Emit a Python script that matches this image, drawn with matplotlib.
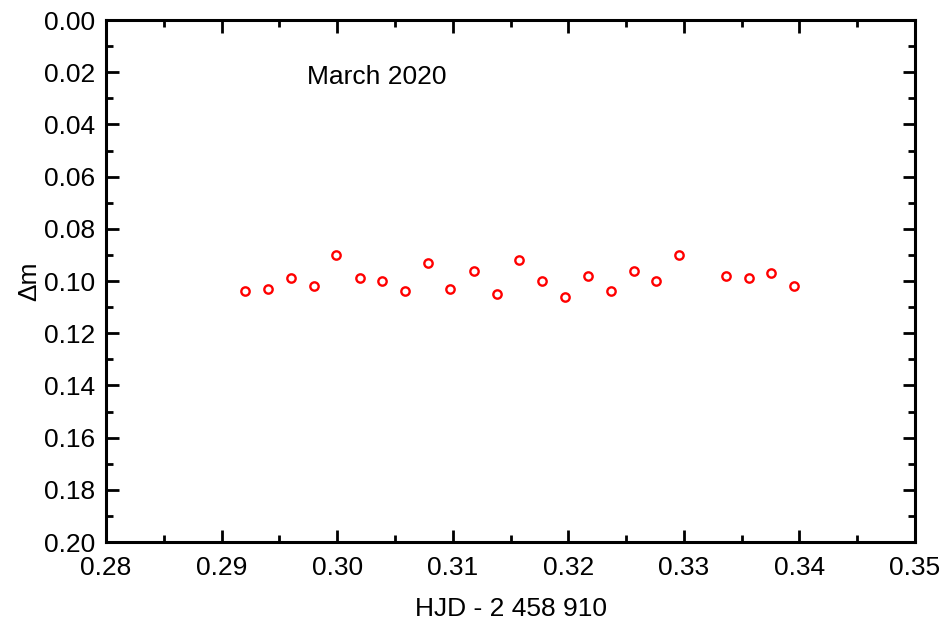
import matplotlib.pyplot as plt
from matplotlib.ticker import MultipleLocator

plt.rcParams['font.family'] = ['Liberation Sans', 'DejaVu Sans']

# HJD - 2458910 and differential magnitude
hjd = [0.2920, 0.2940, 0.2960, 0.2980, 0.2999, 0.3020, 0.3039, 0.3059,
       0.3079, 0.3098, 0.3118, 0.3138, 0.3157, 0.3177, 0.3197, 0.3217,
       0.3237, 0.3257, 0.3276, 0.3296, 0.3336, 0.3356, 0.3375, 0.3395]
dmag = [0.104, 0.103, 0.099, 0.102, 0.090, 0.099, 0.100, 0.104,
        0.093, 0.103, 0.096, 0.105, 0.092, 0.100, 0.106, 0.098,
        0.104, 0.096, 0.100, 0.090, 0.098, 0.099, 0.097, 0.102]

fig = plt.figure(figsize=(9.45, 6.22), dpi=100)
ax = fig.add_axes([0.1122, 0.1286, 0.8561, 0.8392])

ax.plot(hjd, dmag, 'o', markersize=6, markerfacecolor='none',
        markeredgecolor='red', markeredgewidth=1.7)

ax.set_xlim(0.28, 0.35)
ax.set_ylim(0.20, 0.00)
ax.xaxis.set_major_locator(MultipleLocator(0.01))
ax.xaxis.set_minor_locator(MultipleLocator(0.005))
ax.yaxis.set_major_locator(MultipleLocator(0.02))
ax.yaxis.set_minor_locator(MultipleLocator(0.01))
ax.xaxis.set_major_formatter(plt.FormatStrFormatter('%.2f'))
ax.yaxis.set_major_formatter(plt.FormatStrFormatter('%.2f'))

ax.tick_params(which='both', direction='in', top=True, right=True,
               width=2, labelsize=19)
ax.tick_params(which='major', length=9)
ax.tick_params(which='minor', length=5)
ax.tick_params(axis='x', pad=10)
ax.tick_params(axis='y', pad=8)
for s in ax.spines.values():
    s.set_linewidth(2.2)

ax.set_xlabel('HJD - 2 458 910', fontsize=19, labelpad=12)
ax.set_ylabel('Δm', fontsize=19, labelpad=2)
ax.text(0.2974, 0.0218, 'March 2020', fontsize=19, va='center', ha='left')

fig.savefig('out.png', dpi=100)
plt.close(fig)
